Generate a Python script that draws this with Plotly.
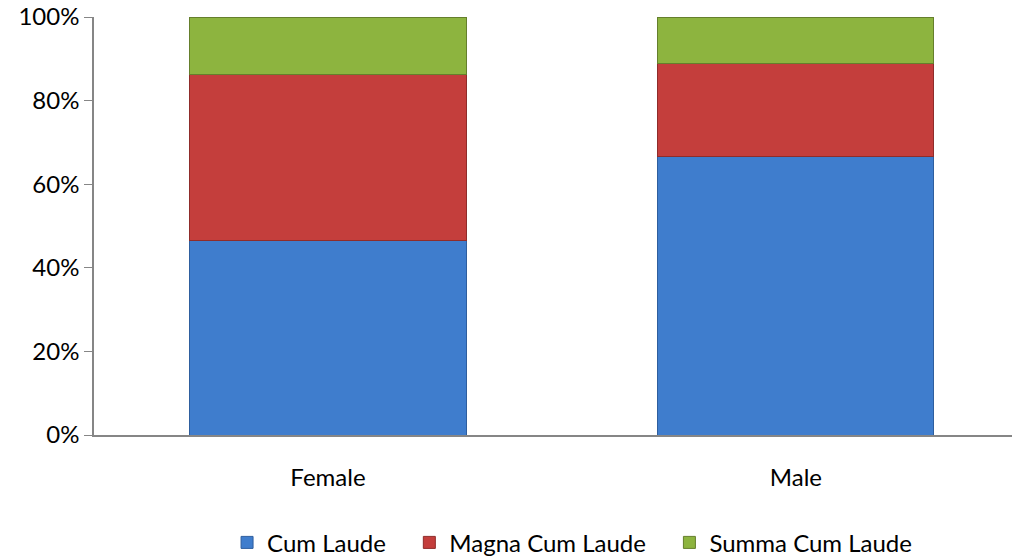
import plotly.graph_objects as go

# Honours share by gender (percent of each group)
genders = ["Female", "Male"]
cum_laude = [46.5, 66.6]
magna_cum_laude = [39.7, 22.3]
summa_cum_laude = [13.8, 11.1]

y_ticks = [0, 20, 40, 60, 80, 100]
y_labels = ["0%", "20%", "40%", "60%", "80%", "100%"]

pad = "\u00a0" * 3
series = [
    ("Cum Laude" + pad, cum_laude, "#3F7DCD", "#2E5E9E"),
    ("Magna Cum Laude" + pad, magna_cum_laude, "#C43E3C", "#8F2C2A"),
    ("Summa Cum Laude", summa_cum_laude, "#8DB43F", "#657F2C"),
]

fig = go.Figure()
for name, vals, col, edge in series:
    fig.add_trace(go.Bar(
        x=genders, y=vals, name=name, width=0.59,
        marker=dict(color=col, line=dict(color=edge, width=1)),
    ))

font = dict(family="Lato, 'Open Sans', sans-serif", size=24, color="#000000")

# page has an 8px body margin, so margins are offset to line up with the reference
fig.update_layout(
    barmode="stack",
    width=1020, height=560,
    margin=dict(l=86, r=0, t=9, b=133),
    plot_bgcolor="white", paper_bgcolor="white",
    font=font,
    showlegend=True,
    legend=dict(orientation="h", xref="container", x=0.553, xanchor="center",
                yref="container", y=0.045, yanchor="middle",
                font=font, traceorder="normal", itemwidth=30),
    xaxis=dict(range=[-0.5, 1.496], showline=True, linecolor="#868686", linewidth=1.5,
               ticks="", showgrid=False, tickfont=font, ticklabelstandoff=20,
               automargin=False),
    yaxis=dict(range=[0, 100], tickvals=y_ticks, ticktext=y_labels, showline=True,
               linecolor="#868686", linewidth=1.5, ticks="outside", ticklen=8,
               tickcolor="#868686", showgrid=False, zeroline=False, tickfont=font,
               automargin=False, ticklabeloverflow="allow"),
)

fig.write_html("out.html")
